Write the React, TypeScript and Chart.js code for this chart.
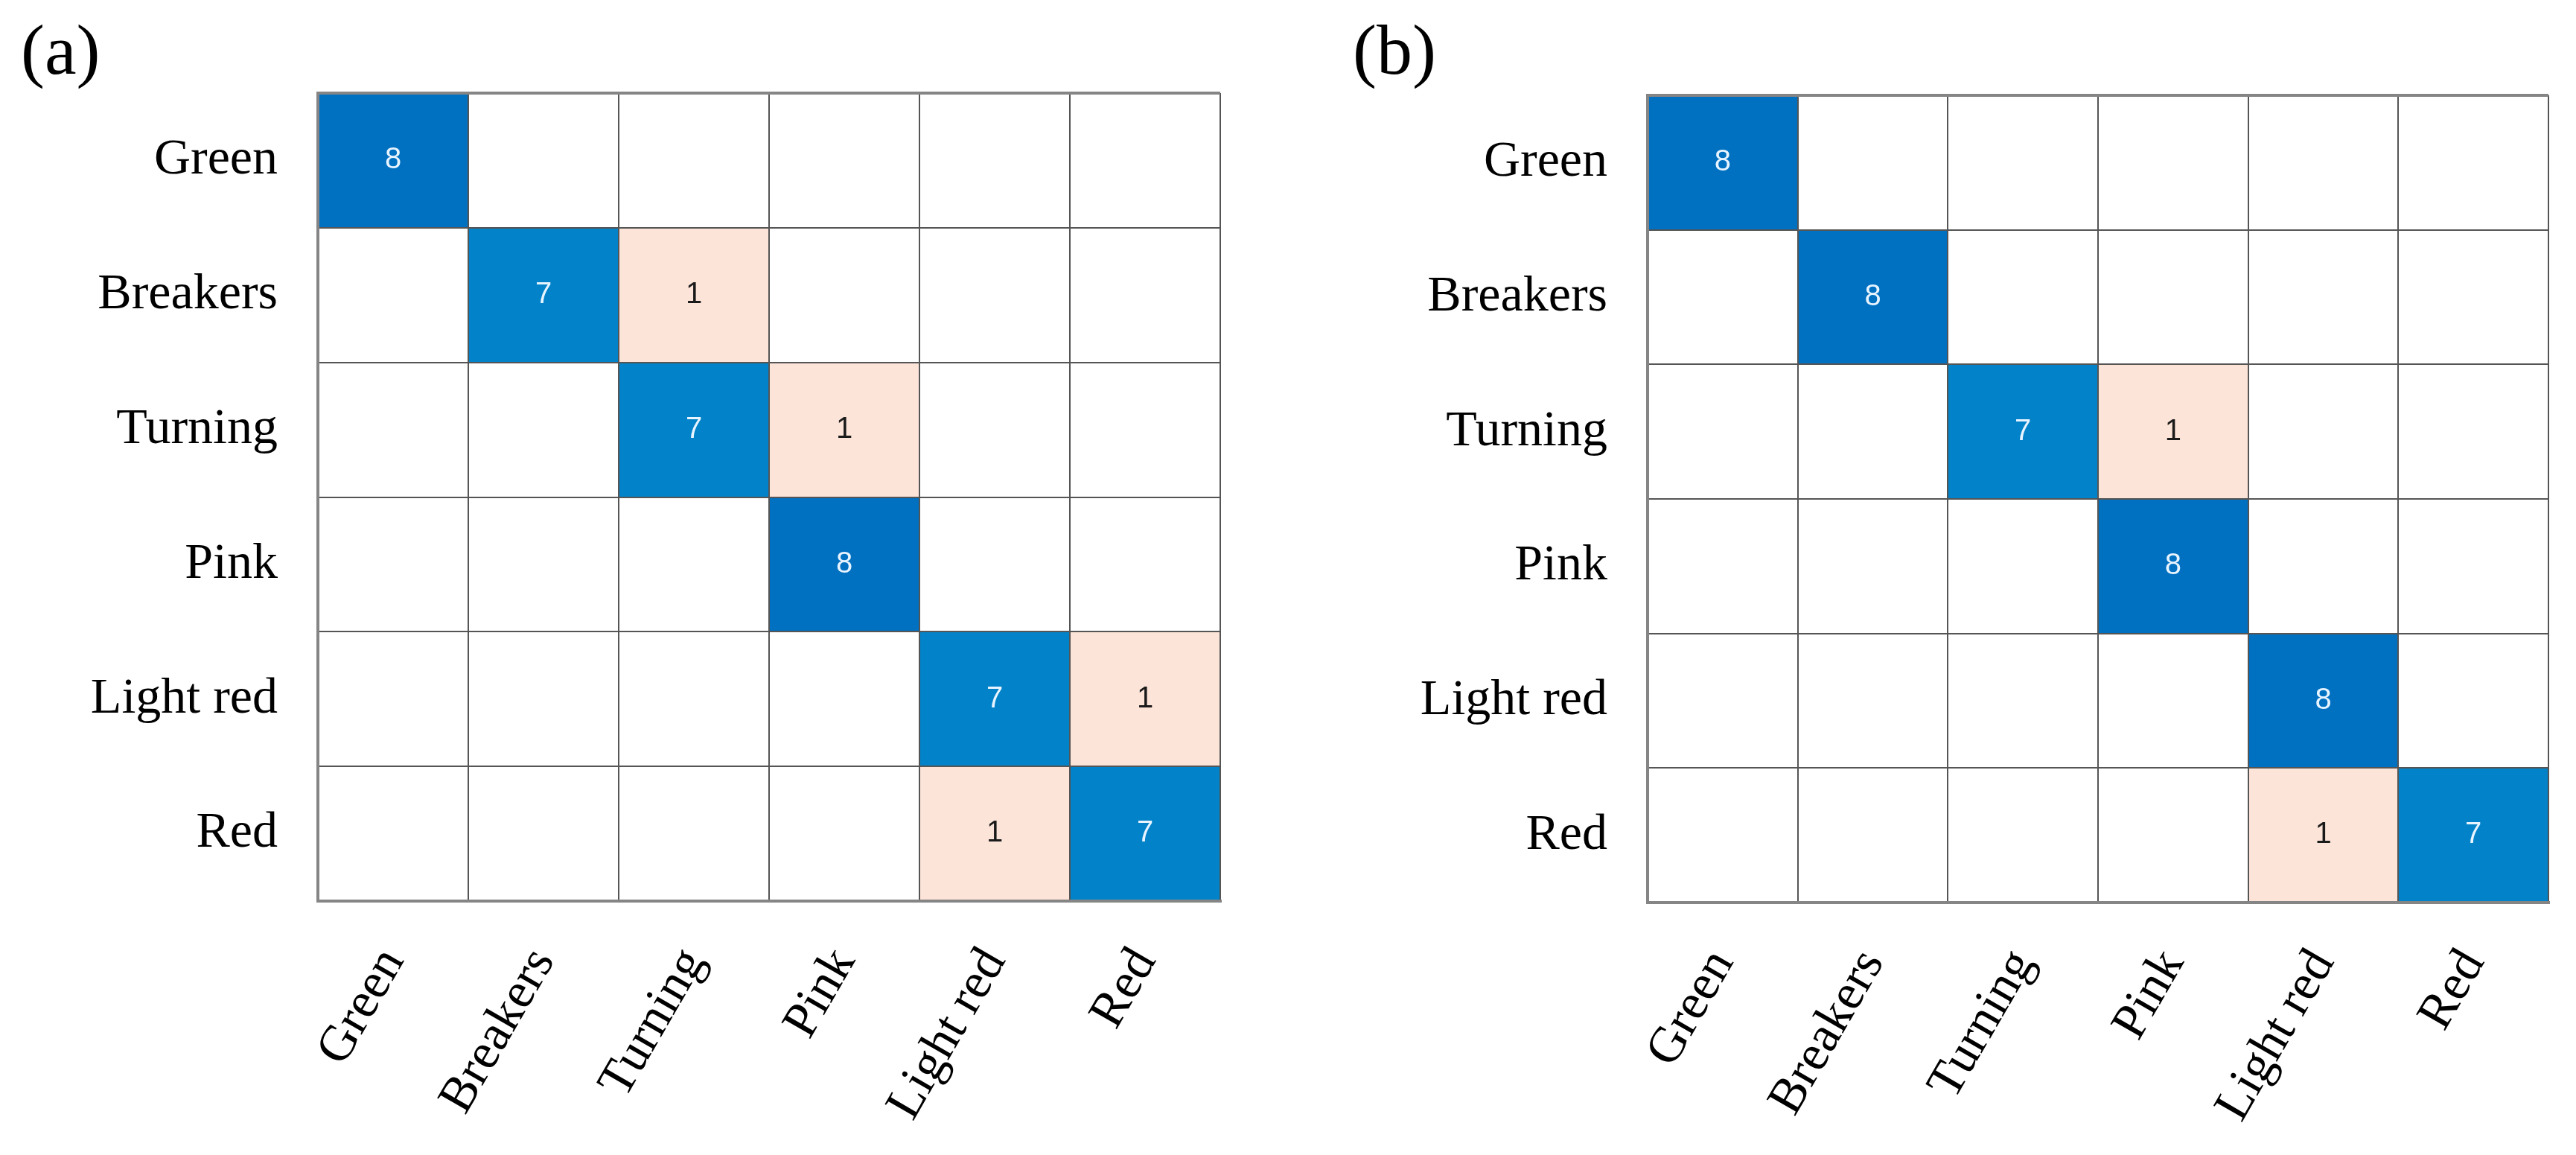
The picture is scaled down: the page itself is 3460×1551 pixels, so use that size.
import React, { useEffect, useRef } from "react";
import { Chart, registerables } from "chart.js";

Chart.register(...registerables);

// ---- data ----
const classes = ["Green", "Breakers", "Turning", "Pink", "Light red", "Red"];
const panelLabels = ["(a)", "(b)"];
// rows = actual class (top to bottom), columns = predicted class
const matrixA = [
  [8, 0, 0, 0, 0, 0],
  [0, 7, 1, 0, 0, 0],
  [0, 0, 7, 1, 0, 0],
  [0, 0, 0, 8, 0, 0],
  [0, 0, 0, 0, 7, 1],
  [0, 0, 0, 0, 1, 7],
];
const matrixB = [
  [8, 0, 0, 0, 0, 0],
  [0, 8, 0, 0, 0, 0],
  [0, 0, 7, 1, 0, 0],
  [0, 0, 0, 8, 0, 0],
  [0, 0, 0, 0, 8, 0],
  [0, 0, 0, 0, 1, 7],
];

const SERIF = '"Liberation Serif", "Times New Roman", serif';
const SANS = '"Liberation Sans", Arial, sans-serif';

function cellColor(v: number): string {
  if (v >= 8) return "#0070c0";
  if (v >= 5) return "#0282c8";
  if (v >= 1) return "#fde4d9";
  return "#ffffff";
}
function textColor(v: number): string {
  return v >= 5 ? "#e8f4ff" : "#1a1a1a";
}

type PanelLayout = {
  left: number;
  width: number;
  height: number;
  areaLeft: number;
  areaRight: number;
  areaTop: number;
  areaBottom: number;
};

const valuePlugin = {
  id: "cellValues",
  afterDatasetsDraw(chart: any) {
    const ctx = chart.ctx;
    const matrix: number[][] = chart.options.plugins.cellValues.matrix;
    ctx.save();
    ctx.font = `40px ${SANS}`;
    ctx.textAlign = "center";
    ctx.textBaseline = "middle";
    chart.data.datasets.forEach((ds: any, di: number) => {
      const row = ds.rowIndex as number;
      const meta = chart.getDatasetMeta(di);
      meta.data.forEach((el: any, ci: number) => {
        const v = matrix[row][ci];
        if (!v) return;
        ctx.fillStyle = textColor(v);
        ctx.fillText(String(v), el.x, (el.y + el.base) / 2);
      });
    });
    ctx.restore();
  },
};

function Panel({ matrix, layout }: { matrix: number[][]; layout: PanelLayout }) {
  const ref = useRef<HTMLCanvasElement | null>(null);
  useEffect(() => {
    if (!ref.current) return;
    const n = classes.length;
    // datasets stacked from bottom row to top row
    const datasets = [];
    for (let r = n - 1; r >= 0; r--) {
      datasets.push({
        label: classes[r],
        rowIndex: r,
        data: classes.map(() => 1),
        backgroundColor: matrix[r].map(cellColor),
        borderWidth: 0,
        categoryPercentage: 1,
        barPercentage: 1,
      });
    }
    const isEdgeY = (v: number) => v === 0 || v === n;
    const chart = new Chart(ref.current, {
      type: "bar",
      data: { labels: classes, datasets: datasets as any },
      plugins: [valuePlugin as any],
      options: {
        animation: false,
        responsive: false,
        devicePixelRatio: 1,
        layout: {
          padding: {
            top: layout.areaTop,
            right: layout.width - layout.areaRight,
            left: 0,
            bottom: 0,
          },
        },
        plugins: {
          legend: { display: false },
          tooltip: { enabled: false },
          cellValues: { matrix },
        } as any,
        scales: {
          x: {
            stacked: true,
            offset: true,
            grid: {
              offset: true,
              z: 1,
              drawTicks: false,
              color: (ctx: any) => (ctx.index === 0 || ctx.index === n ? "#858585" : "#555555"),
              lineWidth: (ctx: any) => (ctx.index === 0 || ctx.index === n ? 4 : 2),
            } as any,
            border: { display: true, color: "#858585", width: 4, z: 2 } as any,
            ticks: {
              autoSkip: false,
              minRotation: 60,
              maxRotation: 60,
              padding: 50,
              color: "#000",
              font: { family: SERIF, size: 68 },
            },
            afterFit: (scale: any) => {
              scale.height = layout.height - layout.areaBottom;
            },
          },
          y: {
            stacked: true,
            min: 0,
            max: n,
            grid: {
              z: 1,
              drawTicks: false,
              color: (ctx: any) => {
                const v = ctx.tick ? ctx.tick.value : -1;
                if (v % 1 !== 0) return "rgba(0,0,0,0)";
                return isEdgeY(v) ? "#858585" : "#555555";
              },
              lineWidth: (ctx: any) => {
                const v = ctx.tick ? ctx.tick.value : -1;
                return isEdgeY(v) ? 4 : 2;
              },
            } as any,
            border: { display: true, color: "#858585", width: 4, z: 2 } as any,
            ticks: {
              stepSize: 0.5,
              autoSkip: false,
              padding: 54,
              color: "#000",
              font: { family: SERIF, size: 68 },
              callback: (value: any) => {
                const v = Number(value);
                if (Math.abs((v % 1) - 0.5) > 1e-6) return "";
                return classes[Math.round(n - 0.5 - v)];
              },
            },
            afterFit: (scale: any) => {
              scale.width = layout.areaLeft;
            },
          },
        },
      } as any,
    });
    return () => chart.destroy();
  }, [matrix, layout]);
  return (
    <canvas
      ref={ref}
      width={layout.width}
      height={layout.height}
      style={{ position: "absolute", left: layout.left, top: 0, width: layout.width, height: layout.height }}
    />
  );
}

const layoutA: PanelLayout = {
  left: 0,
  width: 1700,
  height: 1535,
  areaLeft: 419,
  areaRight: 1631,
  areaTop: 117,
  areaBottom: 1202,
};
const layoutB: PanelLayout = {
  left: 1700,
  width: 1744,
  height: 1535,
  areaLeft: 505,
  areaRight: 1715,
  areaTop: 120,
  areaBottom: 1204,
};

export default function App() {
  const labelStyle: React.CSSProperties = {
    position: "absolute",
    top: 11,
    fontFamily: SERIF,
    fontSize: 96,
    lineHeight: 1,
    color: "#000",
    margin: 0,
  };
  return (
    <div style={{ position: "relative", width: 3444, height: 1535, background: "#fff" }}>
      <Panel matrix={matrixA} layout={layoutA} />
      <Panel matrix={matrixB} layout={layoutB} />
      <div style={{ ...labelStyle, left: 20 }}>{panelLabels[0]}</div>
      <div style={{ ...labelStyle, left: 1809 }}>{panelLabels[1]}</div>
    </div>
  );
}
